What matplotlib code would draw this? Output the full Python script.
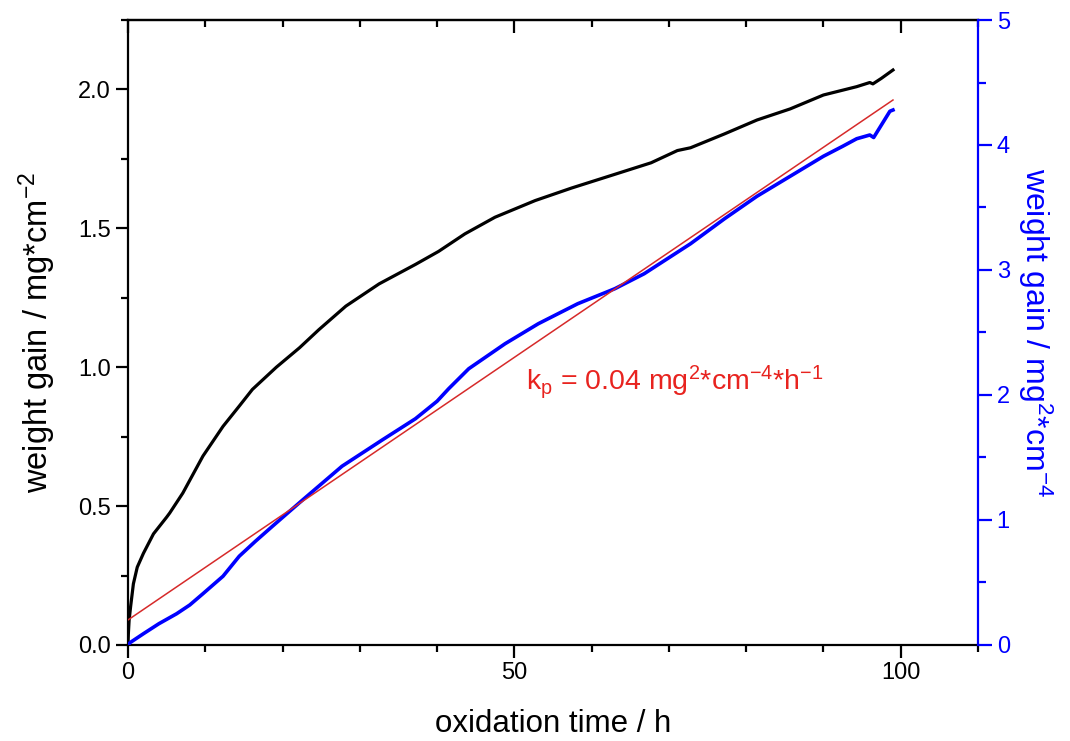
import matplotlib
matplotlib.use("Agg")
import matplotlib.pyplot as plt
from matplotlib.ticker import MultipleLocator

plt.rcParams['font.family'] = ['Liberation Sans', 'DejaVu Sans']
plt.rcParams['mathtext.default'] = 'regular'

# black curve: weight gain (mg/cm^2) vs time (h)
t_black = [0.0, 0.05, 0.15, 0.35, 0.7, 1.2, 2.0, 3.3, 5.0, 5.4, 7.1, 9.7, 12.3, 14.4, 16.1,
           19.2, 22.2, 24.7, 28.2, 32.5, 37.2, 40.2, 43.6, 47.5, 52.7, 57.4, 62.5,
           67.7, 71.1, 72.8, 77.2, 81.4, 85.7, 90.0, 94.3, 96.0, 96.4, 97.5, 98.6, 99.0]
w_black = [0.0, 0.04, 0.09, 0.14, 0.22, 0.28, 0.33, 0.40, 0.46, 0.475, 0.547, 0.68, 0.787, 0.86, 0.92,
           1.00, 1.07, 1.135, 1.22, 1.30, 1.37, 1.417, 1.48, 1.54, 1.60, 1.645, 1.69,
           1.736, 1.78, 1.79, 1.84, 1.89, 1.93, 1.98, 2.01, 2.025, 2.02, 2.04, 2.062, 2.07]

# blue curve: squared weight gain (mg^2/cm^4) vs time (h)
t_blue = [0.0, 0.3, 2.0, 4.0, 6.3, 8.0, 9.7, 12.3, 14.4, 16.5, 18.7, 22.6, 27.7, 32.9, 37.2,
          40.0, 41.5, 44.1, 48.8, 53.1, 58.2, 63.0, 66.8, 70.3, 72.8, 77.2, 81.4,
          85.7, 90.0, 92.5, 94.3, 96.0, 96.5, 97.5, 98.6, 99.0]
w_blue = [0.0, 0.02, 0.09, 0.17, 0.25, 0.32, 0.41, 0.55, 0.71, 0.83, 0.95, 1.16, 1.43, 1.64, 1.81,
          1.95, 2.05, 2.21, 2.41, 2.57, 2.73, 2.85, 2.97, 3.11, 3.21, 3.41, 3.59,
          3.75, 3.91, 3.99, 4.05, 4.08, 4.06, 4.16, 4.27, 4.28]

# linear fit (parabolic rate law)
t_fit = [0.0, 99.0]
w_fit = [0.2, 4.36]

fit_label = r'k$_{p}$ = 0.04 mg$^{2}$*cm$^{-4}$*h$^{-1}$'

fig = plt.figure(figsize=(10.7, 7.41), dpi=100)
ax = fig.add_axes([0.1196, 0.1296, 0.7944, 0.8434])
ax2 = ax.twinx()

ax.plot(t_black, w_black, color='black', lw=2.3, zorder=3)
ax2.plot(t_blue, w_blue, color='#0000ff', lw=2.6, zorder=3)
ax2.plot(t_fit, w_fit, color='#d62a2a', lw=1.1, zorder=4)

ax.set_xlim(0, 110)
ax.set_ylim(0, 2.25)
ax2.set_ylim(0, 5)

for sp in ['left', 'bottom', 'top']:
    ax.spines[sp].set_linewidth(1.6)
ax.spines['right'].set_visible(False)
for sp in ['left', 'bottom', 'top']:
    ax2.spines[sp].set_visible(False)
ax2.spines['right'].set_color('#0000ff')
ax2.spines['right'].set_linewidth(1.6)

ax.xaxis.set_major_locator(MultipleLocator(50))
ax.xaxis.set_minor_locator(MultipleLocator(10))
ax.yaxis.set_major_locator(MultipleLocator(0.5))
ax.yaxis.set_minor_locator(MultipleLocator(0.25))
ax2.yaxis.set_major_locator(MultipleLocator(1))
ax2.yaxis.set_minor_locator(MultipleLocator(0.5))

ax.tick_params(axis='both', which='major', direction='out', length=9, width=1.6, labelsize=17)
ax.tick_params(axis='both', which='minor', direction='out', length=5, width=1.6)
ax.yaxis.set_major_formatter(matplotlib.ticker.FormatStrFormatter('%.1f'))

secx = ax.secondary_xaxis('top')
secx.xaxis.set_major_locator(MultipleLocator(50))
secx.xaxis.set_minor_locator(MultipleLocator(10))
secx.tick_params(which='major', direction='in', length=9, width=1.6, labeltop=False)
secx.tick_params(which='minor', direction='in', length=5, width=1.6)
secx.spines['top'].set_linewidth(1.6)

ax2.tick_params(axis='y', which='major', direction='out', length=10, width=1.6,
                colors='#0000ff', labelsize=17)
ax2.tick_params(axis='y', which='minor', direction='out', length=6, width=1.6, colors='#0000ff')

ax.set_xlabel('oxidation time / h', fontsize=22.5, labelpad=18)
ax.set_ylabel(r'weight gain / mg*cm$^{-2}$', fontsize=23.5, labelpad=14)
ax2.set_ylabel(r'weight gain / mg$^{2}$*cm$^{-4}$', fontsize=23, color='#0000ff',
               rotation=270, labelpad=32)

ax2.text(51.5, 2.1, fit_label, color='#e8231f', fontsize=20.5, ha='left', va='center',
         transform=ax2.transData)

fig.savefig('out.png', dpi=100)
